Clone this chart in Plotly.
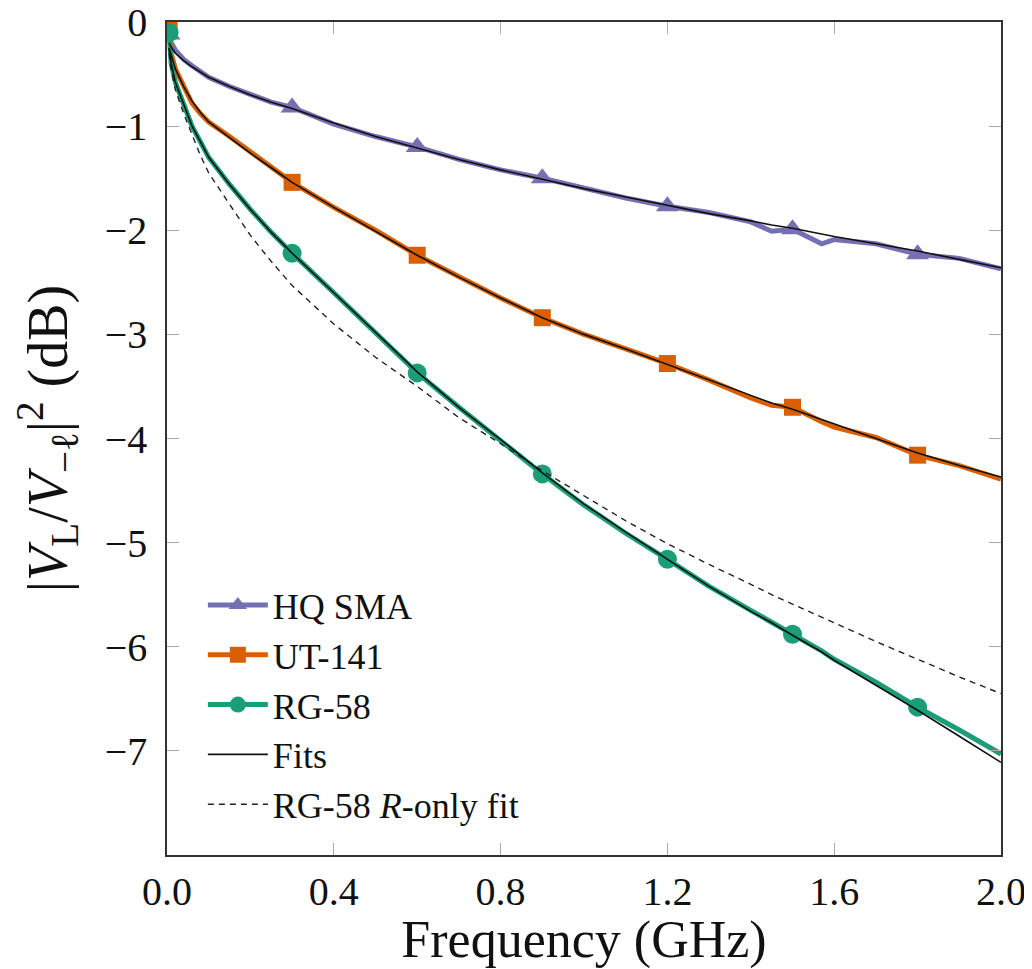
import plotly.graph_objects as go

# Frequency grid (GHz)
freq = [0.005, 0.01, 0.02, 0.04, 0.06, 0.08, 0.1, 0.15, 0.2, 0.25, 0.3, 0.4, 0.5, 0.6,
        0.7, 0.8, 0.9, 1.0, 1.1, 1.2, 1.3, 1.4, 1.45, 1.5, 1.57, 1.6, 1.7, 1.8, 1.9, 2.0]

hq_sma = [-0.12, -0.2, -0.27, -0.36, -0.42, -0.48, -0.53, -0.62, -0.70, -0.77, -0.82, -0.98,
          -1.10, -1.20, -1.32, -1.42, -1.50, -1.60, -1.69, -1.77, -1.83, -1.92, -2.01, -1.99,
          -2.13, -2.09, -2.13, -2.23, -2.27, -2.37]
hq_fit = [-0.2, -0.24, -0.3, -0.37, -0.43, -0.48, -0.53, -0.62, -0.70, -0.77, -0.83, -0.97,
          -1.10, -1.21, -1.32, -1.42, -1.51, -1.60, -1.68, -1.76, -1.84, -1.91, -1.95, -1.98,
          -2.04, -2.06, -2.13, -2.20, -2.28, -2.36]

ut141 = [-0.05, -0.3, -0.45, -0.62, -0.78, -0.88, -0.96, -1.1, -1.25, -1.40, -1.54, -1.78,
         -2.0, -2.24, -2.45, -2.65, -2.84, -3.0, -3.14, -3.28, -3.44, -3.61, -3.68, -3.70,
         -3.84, -3.89, -3.99, -4.16, -4.26, -4.39]
ut_fit = [-0.25, -0.32, -0.45, -0.62, -0.76, -0.87, -0.96, -1.11, -1.26, -1.40, -1.54, -1.78,
          -2.01, -2.24, -2.45, -2.65, -2.84, -3.0, -3.14, -3.29, -3.44, -3.59, -3.66, -3.72,
          -3.82, -3.86, -4.0, -4.14, -4.26, -4.37]

rg58 = [-0.1, -0.4, -0.58, -0.80, -1.0, -1.15, -1.30, -1.56, -1.80, -2.02, -2.22, -2.60,
        -2.98, -3.37, -3.70, -4.02, -4.34, -4.64, -4.91, -5.16, -5.42, -5.65, -5.76, -5.88,
        -6.04, -6.12, -6.34, -6.58, -6.80, -7.03]
rg_fit = [-0.25, -0.4, -0.58, -0.80, -1.0, -1.15, -1.30, -1.56, -1.80, -2.02, -2.22, -2.60,
          -2.98, -3.36, -3.70, -4.01, -4.33, -4.63, -4.90, -5.16, -5.42, -5.66, -5.77, -5.89,
          -6.05, -6.13, -6.37, -6.61, -6.86, -7.11]
rg_r_only = [-0.3, -0.45, -0.65, -0.88, -1.08, -1.28, -1.45, -1.75, -2.05, -2.30, -2.53, -2.90,
             -3.22, -3.50, -3.80, -4.05, -4.31, -4.55, -4.79, -5.01, -5.21, -5.40, -5.50, -5.59,
             -5.72, -5.77, -5.95, -6.12, -6.29, -6.45]

marker_freqs = [0.005, 0.3, 0.6, 0.9, 1.2, 1.5, 1.8]
x_ticks = [0.0, 0.4, 0.8, 1.2, 1.6, 2.0]
y_ticks = [0, -1, -2, -3, -4, -5, -6, -7]

series_names = ["HQ SMA", "UT-141", "RG-58"]
series_data = [hq_sma, ut141, rg58]
series_fits = [hq_fit, ut_fit, rg_fit]
colors = ["#7570b3", "#d95f02", "#1b9e77"]
symbols = ["triangle-up", "square", "circle"]
msizes = [20, 17, 19]

FONT = "Liberation Serif"
idx = [freq.index(f) for f in marker_freqs]

fig = go.Figure()

# data lines
for name, ys, c in zip(series_names, series_data, colors):
    fig.add_trace(go.Scatter(x=freq, y=ys, mode="lines", line=dict(color=c, width=5),
                             showlegend=False, hoverinfo="skip"))
# markers
for name, ys, c, s, ms in zip(series_names, series_data, colors, symbols, msizes):
    fig.add_trace(go.Scatter(x=[freq[i] for i in idx], y=[ys[i] for i in idx], mode="markers",
                             marker=dict(color=c, symbol=s, size=ms, line=dict(width=0)),
                             showlegend=False))
# R-only fit
fig.add_trace(go.Scatter(x=freq, y=rg_r_only, mode="lines",
                         line=dict(color="#222222", width=1.4, dash="6px,5px"),
                         showlegend=False))
# fits
for ys in series_fits:
    fig.add_trace(go.Scatter(x=freq, y=ys, mode="lines", line=dict(color="#111111", width=1.6),
                             showlegend=False))

# legend entries
for name, c, s, ms in zip(series_names, colors, symbols, msizes):
    fig.add_trace(go.Scatter(x=[None], y=[None], mode="lines+markers", name=name,
                             line=dict(color=c, width=5),
                             marker=dict(color=c, symbol=s, size=ms, line=dict(width=0))))
fig.add_trace(go.Scatter(x=[None], y=[None], mode="lines", name="Fits",
                         line=dict(color="#111111", width=1.6)))
fig.add_trace(go.Scatter(x=[None], y=[None], mode="lines", name="RG-58 <i>R</i>-only fit",
                         line=dict(color="#222222", width=1.4, dash="6px,5px")))

axis_common = dict(showgrid=False, zeroline=False, showline=True, linecolor="#333333",
                   linewidth=1.5, mirror="ticks", ticks="inside", ticklen=12,
                   tickcolor="#aaaaaa", tickwidth=1.2, automargin=False,
                   ticklabeloverflow="allow",
                   tickfont=dict(family=FONT, size=40, color="#111111"))

# page body has an 8px default margin, so the figure is 8px smaller and shifted
fig.update_layout(
    width=1024, height=961,
    margin=dict(l=159, r=31, t=14, b=114),
    plot_bgcolor="white", paper_bgcolor="white",
    font=dict(family=FONT, color="#111111"),
    xaxis=dict(range=[0, 2.0], tickvals=x_ticks, tickformat=".1f",
               title=dict(text="Frequency (GHz)", font=dict(family=FONT, size=52), standoff=4),
               **axis_common),
    yaxis=dict(range=[-8, 0], tickvals=y_ticks, ticklabelstandoff=10,
               title=dict(text="|<i>V</i><sub>L</sub>/<i>V</i><sub>−ℓ</sub>|<sup>2</sup> (dB)",
                          font=dict(family=FONT, size=56), standoff=24),
               **axis_common),
    legend=dict(x=0.043, y=0.336, xanchor="left", yanchor="top", bgcolor="rgba(0,0,0,0)",
                font=dict(family=FONT, size=36, color="#111111"), itemwidth=60,
                tracegroupgap=0),
    showlegend=True,
)

fig.write_html("out.html")
